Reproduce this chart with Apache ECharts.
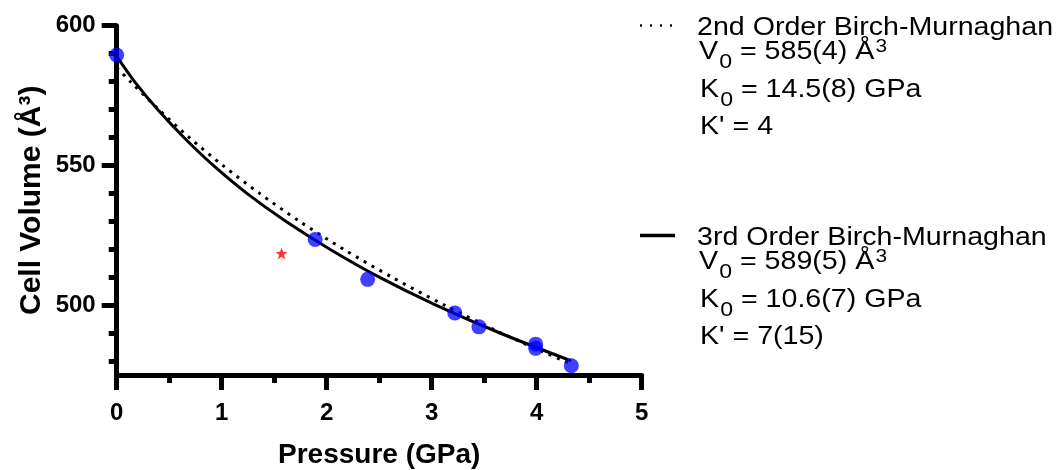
<!DOCTYPE html>
<html>
<head>
<meta charset="utf-8">
<title>Cell volume vs pressure</title>
<script src="https://cdn.jsdelivr.net/npm/echarts@6/dist/echarts.min.js"></script>
<style>
  html, body { margin: 0; padding: 0; background: #fff; }
  #chart { width: 1057px; height: 470px; }
</style>
</head>
<body>
<div id="chart"></div>
<script>
// measured points (GPa, Å3)
var pressure = [0, 1.89, 2.39, 3.22, 3.45, 3.99, 3.99, 4.33];
var volume = [589.5, 523.5, 509.2, 497.2, 492.2, 486.0, 484.5, 478.3];

// the odd point drawn as a red star
var starPressure = [1.57];
var starVolume = [518.5];

// fitted curves
var bm3Pressure = [0, 0.17, 0.39, 0.64, 0.92, 1.24, 1.61, 2.03, 2.5, 3.04, 3.65, 4.33];
var bm3Volume = [589, 580, 570, 560, 550, 540, 530, 520, 510, 500, 490, 480];
var bm2Pressure = [0, 0.13, 0.4, 0.69, 1.01, 1.36, 1.74, 2.16, 2.62, 3.12, 3.66, 4.26, 4.35];
var bm2Volume = [585, 580, 570, 560, 550, 540, 530, 520, 510, 500, 490, 480, 478.8];

// axis ticks
var yMajorTicks = [500, 550, 600];
var yMinorTicks = [480, 490, 510, 520, 530, 540, 560, 570, 580, 590];

// legend text
var fit2Name = '2nd Order Birch-Murnaghan';
var fit2Lines = ['V{sub|0} = 585(4) Å{sup|3}', 'K{sub|0} = 14.5(8) GPa', "K' = 4"];
var fit3Name = '3rd Order Birch-Murnaghan';
var fit3Lines = ['V{sub|0} = 589(5) Å{sup|3}', 'K{sub|0} = 10.6(7) GPa', "K' = 7(15)"];

var font = 'Liberation Sans';

function pairs(xs, ys) {
	return xs.map(function(x, i) {
		return [x, ys[i]];
	});
}

// legend text is a bit wider than the font, so stretch it a little
function legendBlock(name, lines, top, dotted) {
	var rich = {
		sub: { fontSize: 21, fontFamily: font, padding: [21, 0, 0, 1] },
		sup: { fontSize: 19, fontFamily: font, padding: [0, 0, 10, 1] },
	};
	var els = [];
	els.push({
		type: 'line',
		shape: { x1: 640, y1: top - 2, x2: dotted ? 672 : 675, y2: top - 2 },
		style: { stroke: '#000', lineWidth: dotted ? 2.5 : 3.5, lineDash: dotted ? [2, 8] : null },
	});
	els.push({
		type: 'text',
		x: 697,
		y: top,
		scaleX: 1.1,
		style: { text: name, x: 0, y: 0, fontSize: 26, fontFamily: font, fill: '#000', verticalAlign: 'middle' },
	});
	var offsets = [24, 62, 99];
	lines.forEach(function(line, i) {
		els.push({
			type: 'text',
			x: i == 0 ? 699 : 700,
			y: top + offsets[i],
			scaleX: 1.1,
			style: {
				text: line,
				x: 0,
				y: 0,
				fontSize: 26,
				fontFamily: font,
				fill: '#000',
				verticalAlign: 'middle',
				rich: rich,
			},
		});
	});
	return els;
}

var axisLine = { show: true, lineStyle: { color: '#000', width: 5 } };
var labelStyle = { color: '#000', fontSize: 24, fontWeight: 'bold', fontFamily: font };

var chart = echarts.init(document.getElementById('chart'));

chart.setOption({
	animation: false,
	backgroundColor: '#fff',
	grid: { left: 116.7, right: 415.3, top: 25.7, bottom: 95.1, containLabel: false, outerBoundsMode: 'none' },
	xAxis: {
		type: 'value',
		min: 0,
		max: 5,
		interval: 1,
		name: 'Pressure (GPa)',
		nameLocation: 'middle',
		nameGap: 66,
		nameTextStyle: { color: '#000', fontSize: 28, fontWeight: 'bold', fontFamily: font },
		axisLine: axisLine,
		axisTick: { show: true, length: 15, lineStyle: { color: '#000', width: 5 } },
		minorTick: { show: true, splitNumber: 2, length: 8, lineStyle: { color: '#000', width: 5 } },
		axisLabel: Object.assign({ margin: 26 }, labelStyle),
		splitLine: { show: false },
	},
	yAxis: [
		{
			type: 'value',
			min: 475,
			max: 600,
			name: 'Cell Volume (Å³)',
			nameLocation: 'middle',
			nameGap: 70,
			nameTextStyle: { color: '#000', fontSize: 30, fontWeight: 'bold', fontFamily: font },
			axisLine: axisLine,
			axisTick: { show: true, length: 15, customValues: yMajorTicks, lineStyle: { color: '#000', width: 5 } },
			axisLabel: Object.assign({ margin: 21, customValues: yMajorTicks }, labelStyle),
			splitLine: { show: false },
		},
		{
			// minor ticks only
			type: 'value',
			min: 475,
			max: 600,
			position: 'left',
			axisLine: { show: false },
			axisTick: { show: true, length: 8, customValues: yMinorTicks, lineStyle: { color: '#000', width: 5 } },
			axisLabel: { show: false },
			splitLine: { show: false },
		},
	],
	series: [
		{
			name: fit2Name,
			type: 'line',
			data: pairs(bm2Pressure, bm2Volume),
			smooth: 0.3,
			symbol: 'none',
			lineStyle: { color: '#000', width: 3, type: [3, 6] },
			z: 2,
		},
		{
			name: fit3Name,
			type: 'line',
			data: pairs(bm3Pressure, bm3Volume),
			smooth: 0.3,
			symbol: 'none',
			lineStyle: { color: '#000', width: 3 },
			z: 2,
		},
		{
			name: 'Data',
			type: 'scatter',
			data: pairs(pressure, volume),
			symbolSize: 15,
			clip: false,
			itemStyle: { color: '#0000ff', opacity: 0.75 },
			z: 3,
		},
		{
			name: 'Star',
			type: 'scatter',
			data: pairs(starPressure, starVolume),
			symbol: 'path://M0,-10 L2.35,-3.24 L9.51,-3.09 L3.8,1.24 L5.88,8.09 L0,4 L-5.88,8.09 L-3.8,1.24 L-9.51,-3.09 L-2.35,-3.24 Z',
			symbolSize: [12, 12],
			itemStyle: { color: '#ff0000' },
			z: 3,
		},
	],
	graphic: legendBlock(fit2Name, fit2Lines, 27.5, true).concat(legendBlock(fit3Name, fit3Lines, 237.5, false)),
});
</script>
</body>
</html>
